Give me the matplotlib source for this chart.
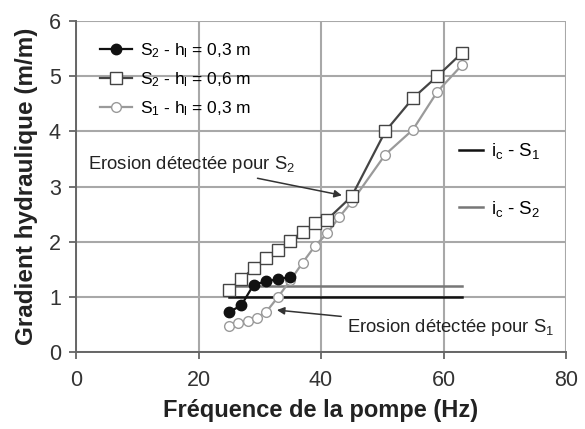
import matplotlib
matplotlib.use("Agg")
import matplotlib.pyplot as plt
from matplotlib.lines import Line2D

plt.rcParams['font.family'] = ['Liberation Sans', 'DejaVu Sans']
plt.rcParams['mathtext.fontset'] = 'custom'
plt.rcParams['mathtext.rm'] = 'Liberation Sans'
plt.rcParams['mathtext.it'] = 'Liberation Sans'

# S2 - hl = 0,3 m
f_s2_03 = [25, 27, 29, 31, 33, 35]
i_s2_03 = [0.72, 0.85, 1.22, 1.28, 1.32, 1.36]

# S2 - hl = 0,6 m
f_s2_06 = [25, 27, 29, 31, 33, 35, 37, 39, 41, 45, 50.5, 55, 59, 63]
i_s2_06 = [1.12, 1.32, 1.52, 1.7, 1.84, 2.02, 2.18, 2.33, 2.4, 2.82, 4.0, 4.6, 5.0, 5.42]

# S1 - hl = 0,3 m
f_s1_03 = [25, 26.5, 28, 29.5, 31, 33, 35, 37, 39, 41, 43, 45, 50.5, 55, 59, 63]
i_s1_03 = [0.48, 0.52, 0.56, 0.62, 0.72, 1.0, 1.3, 1.62, 1.92, 2.15, 2.45, 2.72, 3.58, 4.03, 4.72, 5.2]

# critical gradients
f_ic = [25, 63]
ic_s1 = [1.0, 1.0]
ic_s2 = [1.2, 1.2]

fig = plt.figure(figsize=(5.85, 4.29), dpi=100)
ax = fig.add_axes([0.13, 0.1795, 0.8375, 0.7715])

grid_c = '#a8a8a8'
ax.set_xlim(0, 80)
ax.set_ylim(0, 6)
ax.set_xticks([0, 20, 40, 60, 80])
ax.set_yticks(range(7))
ax.grid(True, color=grid_c, lw=1.5)
ax.set_axisbelow(True)
for s in ['top', 'right']:
    ax.spines[s].set_visible(False)
for s in ['left', 'bottom']:
    ax.spines[s].set_color('#666666')
    ax.spines[s].set_linewidth(1.4)
ax.tick_params(direction='out', length=5, width=1.3, color='#666666',
               labelsize=15.5, labelcolor='#333333')
ax.tick_params(axis='x', pad=8)
ax.tick_params(axis='y', pad=6)

# critical lines
ax.plot(f_ic, ic_s1, color='#111111', lw=1.8)
ax.plot(f_ic, ic_s2, color='#777777', lw=1.8)

l1, = ax.plot(f_s2_03, i_s2_03, '-o', color='#111111', ms=7.5, mfc='#111111',
              lw=1.6, label='$S_2$ - $h_l$ = 0,3 m', zorder=5)
l2, = ax.plot(f_s2_06, i_s2_06, '-s', color='#444444', ms=8.5, mfc='white',
              mec='#444444', lw=1.6, label='$S_2$ - $h_l$ = 0,6 m', zorder=4)
l3, = ax.plot(f_s1_03, i_s1_03, '-o', color='#9a9a9a', ms=7, mfc='white',
              mec='#9a9a9a', lw=1.6, label='$S_1$ - $h_l$ = 0,3 m', zorder=3)

leg1 = ax.legend(handles=[l1, l2, l3], loc='upper left', bbox_to_anchor=(0.035, 0.96),
                 borderaxespad=0, frameon=False, fontsize=12.5, handlelength=1.85,
                 labelspacing=0.6, handletextpad=0.45)
ax.add_artist(leg1)

ax.legend(handles=[Line2D([], [], color='#111111', lw=1.8),
                   Line2D([], [], color='#777777', lw=1.8)],
          labels=['$i_c$ - $S_1$', '$i_c$ - $S_2$'],
          loc='center left', bbox_to_anchor=(0.766, 0.52), borderaxespad=0,
          frameon=False, fontsize=13.5, handlelength=1.3, labelspacing=2.0,
          handletextpad=0.4)

ax.annotate('Erosion détectée pour $S_2$', xy=(43.4, 2.84), xytext=(2, 3.39),
            fontsize=13.3, color='#222222', va='center',
            arrowprops=dict(arrowstyle='-|>', color='#333333', lw=1.1,
                            mutation_scale=11, shrinkA=0, shrinkB=0))
ax.annotate('Erosion détectée pour $S_1$', xy=(32.8, 0.76), xytext=(44.2, 0.45),
            fontsize=13.3, color='#222222', va='center',
            arrowprops=dict(arrowstyle='-|>', color='#333333', lw=1.1,
                            mutation_scale=11, shrinkA=2, shrinkB=0))

ax.set_xlabel('Fréquence de la pompe (Hz)', fontsize=17, fontweight='bold',
              color='#222222', labelpad=6)
ax.set_ylabel('Gradient hydraulique (m/m)', fontsize=17.5, fontweight='bold',
              color='#222222', labelpad=8)

fig.savefig('out.png', dpi=100)
